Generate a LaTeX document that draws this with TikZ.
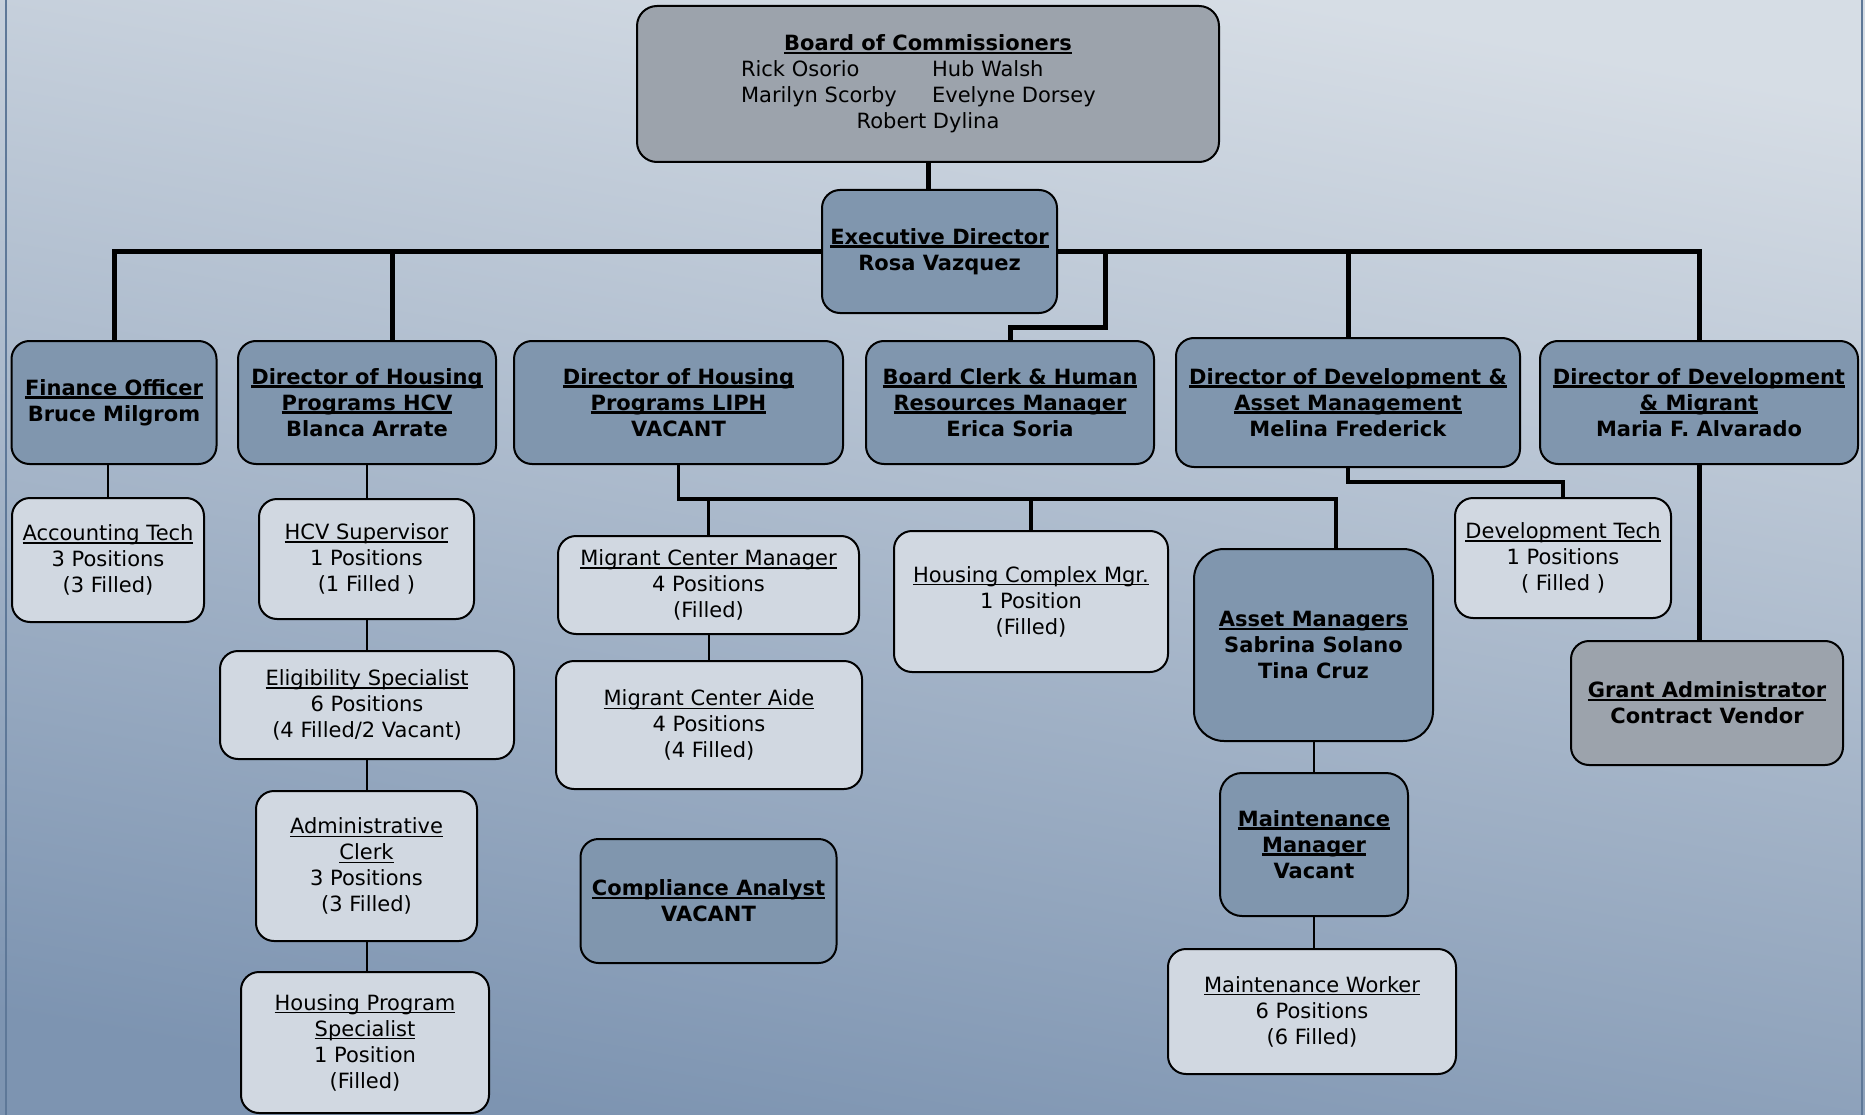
\documentclass[tikz,border=0pt]{standalone}
\usepackage{xcolor}
\usepackage{fontspec}
\setmainfont{DejaVu Sans}
\usepackage{tikz}

\definecolor{bgtop}{RGB}{214,221,229}
\definecolor{bgmid}{RGB}{182,195,210}
\definecolor{bgbot}{RGB}{125,148,177}
\definecolor{frameblue}{RGB}{94,120,152}
\definecolor{headblue}{RGB}{128,150,174}
\definecolor{staffgrey}{RGB}{209,216,225}
\definecolor{boardgrey}{RGB}{156,163,172}

% underlined titles, rule just under the baseline
\newcommand{\ulline}[2]{\setbox0\hbox{#2}\rlap{\rule[-3.3pt]{\wd0}{#1}}\box0}
\newcommand{\ulx}[1]{\ulline{1.4pt}{#1}}
\newcommand{\ulb}[1]{\ulline{2.2pt}{\textbf{#1}}}

\begin{document}
\begin{tikzpicture}[x=1pt, y=-1pt,
  every node/.style={draw, line width=2pt, rounded corners=18pt, align=center, inner sep=0pt,
    font=\fontsize{21}{26}\selectfont},
  head/.style={fill=headblue},
  staff/.style={fill=staffgrey},
  board/.style={fill=boardgrey},
  sz/.style 2 args={minimum width=#1pt, minimum height=#2pt},
  bus/.style={line width=5pt},
  midbus/.style={line width=3.8pt},
  link/.style={line width=2pt}]
  \useasboundingbox (0,0) rectangle (1865,1115);
  \shade[top color=bgtop, middle color=bgmid, bottom color=bgbot, shading angle=-10] (0,0) rectangle (1865,1115);
  \draw[frameblue, line width=2.5pt] (6,0) -- (6,1115);
  \draw[frameblue, line width=2.5pt] (1862,0) -- (1862,1115);

  % top
  \node[board, sz={582}{156}, rounded corners=20pt] (brd) at (928,84) {\ulb{Board of Commissioners}\\
    \makebox[374pt][l]{\makebox[191pt][l]{Rick Osorio}Hub Walsh}\\
    \makebox[374pt][l]{\makebox[191pt][l]{Marilyn Scorby}Evelyne Dorsey}\\
    Robert Dylina};
  \node[head, sz={235}{123}] (exec) at (939.5,251.5) {\ulb{Executive Director}\\\textbf{Rosa Vazquez}};

  % directors
  \node[head, sz={205}{123}] (fin) at (114,402.5) {\ulb{Finance Officer}\\\textbf{Bruce Milgrom}};
  \node[head, sz={258}{123}] (hcv) at (367,402.5) {\ulb{Director of Housing}\\\ulb{Programs HCV}\\\textbf{Blanca Arrate}};
  \node[head, sz={329}{123}] (liph) at (678.5,402.5) {\ulb{Director of Housing}\\\ulb{Programs LIPH}\\\textbf{VACANT}};
  \node[head, sz={288}{123}] (clerk) at (1010,402.5) {\ulb{Board Clerk \& Human}\\\ulb{Resources Manager}\\\textbf{Erica Soria}};
  \node[head, sz={344}{129}] (dasset) at (1348,402.5) {\ulb{Director of Development \&}\\\ulb{Asset Management}\\\textbf{Melina Frederick}};
  \node[head, sz={318}{123}] (dmig) at (1699,402.5) {\ulb{Director of Development}\\\ulb{\& Migrant}\\\textbf{Maria F. Alvarado}};

  % staff
  \node[staff, sz={192}{124}] (acct) at (108,560) {\ulx{Accounting Tech}\\3 Positions\\(3 Filled)};
  \node[staff, sz={215}{120}] (hcvsup) at (366.5,559) {\ulx{HCV Supervisor}\\1 Positions\\(1 Filled )};
  \node[staff, sz={294}{108}] (elig) at (367,705) {\ulx{Eligibility Specialist}\\6 Positions\\(4 Filled/2 Vacant)};
  \node[staff, sz={221}{150}] (admin) at (366.5,866) {\ulx{Administrative}\\\ulx{Clerk}\\3 Positions\\(3 Filled)};
  \node[staff, sz={248}{141}] (hps) at (365,1042.5) {\ulx{Housing Program}\\\ulx{Specialist}\\1 Position\\(Filled)};
  \node[staff, sz={301}{98}] (migmgr) at (708.5,585) {\ulx{Migrant Center Manager}\\4 Positions\\(Filled)};
  \node[staff, sz={306}{128}] (migaide) at (709,725) {\ulx{Migrant Center Aide}\\4 Positions\\(4 Filled)};
  \node[head, sz={256}{124}] (compl) at (708.5,901) {\ulb{Compliance Analyst}\\\textbf{VACANT}};
  \node[staff, sz={274}{141}] (hcmgr) at (1031,601.5) {\ulx{Housing Complex Mgr.}\\1 Position\\(Filled)};
  \node[head, sz={239}{192}, rounded corners=30pt] (asset) at (1313.5,645) {\ulb{Asset Managers}\\\textbf{Sabrina Solano}\\\textbf{Tina Cruz}};
  \node[head, sz={188}{143}, rounded corners=22pt] (mmgr) at (1314,844.5) {\ulb{Maintenance}\\\ulb{Manager}\\\textbf{Vacant}};
  \node[staff, sz={288}{125}] (mworker) at (1312,1011.5) {\ulx{Maintenance Worker}\\6 Positions\\(6 Filled)};
  \node[staff, sz={216}{120}] (devtech) at (1563,558) {\ulx{Development Tech}\\1 Positions\\( Filled )};
  \node[board, sz={272}{124}] (grant) at (1707,703) {\ulb{Grant Administrator}\\\textbf{Contract Vendor}};

  % taps
  \coordinate (hcvtap) at (392,341);
  \coordinate (clerkjog) at (1105,327);
  \coordinate (liphbus) at (1336,499);
  \coordinate (assettap) at (1336,549);
  \coordinate (devjog) at (1348,482);

  % lines
  \draw[bus] (brd.south) -- (brd.south |- exec.north);
  \draw[bus] (fin.north) |- (exec.west);
  \draw[bus] (hcvtap) -- (hcvtap |- exec.west);
  \draw[bus] (exec.east) -| (dmig.north);
  \draw[bus] (clerkjog |- exec.east) -- (clerkjog) -| (clerk.north);
  \draw[bus] (dasset.north) -- (dasset.north |- exec.east);
  \draw[midbus] (liph.south) |- (liphbus) -- (assettap);
  \draw[midbus] (migmgr.north) -- (migmgr.north |- liphbus);
  \draw[midbus] (hcmgr.north) -- (hcmgr.north |- liphbus);
  \draw[midbus] (dasset.south) -- (devjog) -| (devtech.north);
  \draw[bus] (dmig.south) -- (dmig.south |- grant.north);
  \draw[link] (acct.north |- fin.south) -- (acct.north);
  \draw[link] (hcvsup.north |- hcv.south) -- (hcvsup.north);
  \draw[link] (hcvsup.south) -- (hcvsup.south |- elig.north);
  \draw[link] (elig.south -| hcvsup.south) -- (admin.north -| hcvsup.south);
  \draw[link] (admin.south -| hcvsup.south) -- (hps.north -| hcvsup.south);
  \draw[link] (migmgr.south) -- (migmgr.south |- migaide.north);
  \draw[link] (asset.south) -- (asset.south |- mmgr.north);
  \draw[link] (mmgr.south) -- (mmgr.south |- mworker.north);
\end{tikzpicture}
\end{document}
